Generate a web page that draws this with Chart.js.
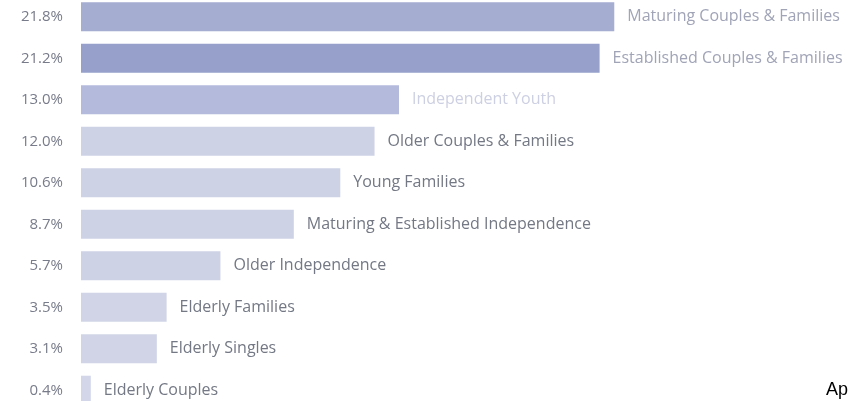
<!DOCTYPE html>
<html>
<head>
<meta charset="utf-8">
<script src="https://cdn.jsdelivr.net/npm/chart.js@4"></script>
<style>
  html, body { margin: 0; padding: 0; background: #fff; overflow: hidden; }
  body { width: 854px; height: 401px; position: relative; }
  #chart { position: absolute; left: 0; top: -4px; }
  #ap { position: absolute; left: 826px; top: 379px; font: 18px "Liberation Sans", Arial, sans-serif; color: #000; }
</style>
</head>
<body>
<canvas id="chart" width="854" height="415"></canvas>
<div id="ap">Ap</div>
<script>
// segments, largest first
const categories = [
  'Maturing Couples & Families',
  'Established Couples & Families',
  'Independent Youth',
  'Older Couples & Families',
  'Young Families',
  'Maturing & Established Independence',
  'Older Independence',
  'Elderly Families',
  'Elderly Singles',
  'Elderly Couples'
];
const shares = [21.8, 21.2, 13.0, 12.0, 10.6, 8.7, 5.7, 3.5, 3.1, 0.4];
const barColors = [
  'rgb(165,173,208)', 'rgb(150,160,202)', 'rgb(180,186,220)',
  'rgb(206,210,229)', 'rgb(206,210,229)', 'rgb(206,210,229)',
  'rgb(206,210,229)', 'rgb(208,212,230)', 'rgb(208,212,230)', 'rgb(210,214,232)'
];
const labelColors = [
  'rgb(160,164,182)', 'rgb(160,164,182)', 'rgb(205,208,226)',
  'rgb(115,120,132)', 'rgb(115,120,132)', 'rgb(115,120,132)',
  'rgb(115,120,132)', 'rgb(115,120,132)', 'rgb(115,120,132)', 'rgb(115,120,132)'
];

const FONT = '"Open Sans", "Noto Sans", sans-serif';

// names drawn to the right of each bar
const barNames = {
  id: 'barNames',
  afterDatasetsDraw(chart) {
    const ctx = chart.ctx;
    const meta = chart.getDatasetMeta(0);
    ctx.save();
    ctx.font = '16px ' + FONT;
    ctx.textBaseline = 'middle';
    ctx.textAlign = 'left';
    meta.data.forEach((bar, i) => {
      ctx.fillStyle = labelColors[i];
      ctx.fillText(categories[i], bar.x + 13, bar.y);
    });
    ctx.restore();
  }
};

new Chart(document.getElementById('chart'), {
  type: 'bar',
  data: {
    labels: shares.map(v => v.toFixed(1) + '%'),
    datasets: [{
      data: shares,
      backgroundColor: barColors,
      borderWidth: 0,
      barPercentage: 0.7,
      categoryPercentage: 1.0
    }]
  },
  options: {
    indexAxis: 'y',
    responsive: false,
    animation: false,
    layout: { padding: 0 },
    plugins: { legend: { display: false }, tooltip: { enabled: false } },
    scales: {
      x: { display: false, min: 0, max: 31.6 },
      y: {
        grid: { display: false, drawTicks: false },
        border: { display: false },
        ticks: {
          padding: 18,
          color: 'rgb(120,124,138)',
          font: { family: FONT, size: 15 }
        },
        afterFit(scale) {
          scale.width = 81;
          scale.paddingTop = 0;
          scale.paddingBottom = 0;
        }
      }
    }
  },
  plugins: [barNames]
});
</script>
</body>
</html>
